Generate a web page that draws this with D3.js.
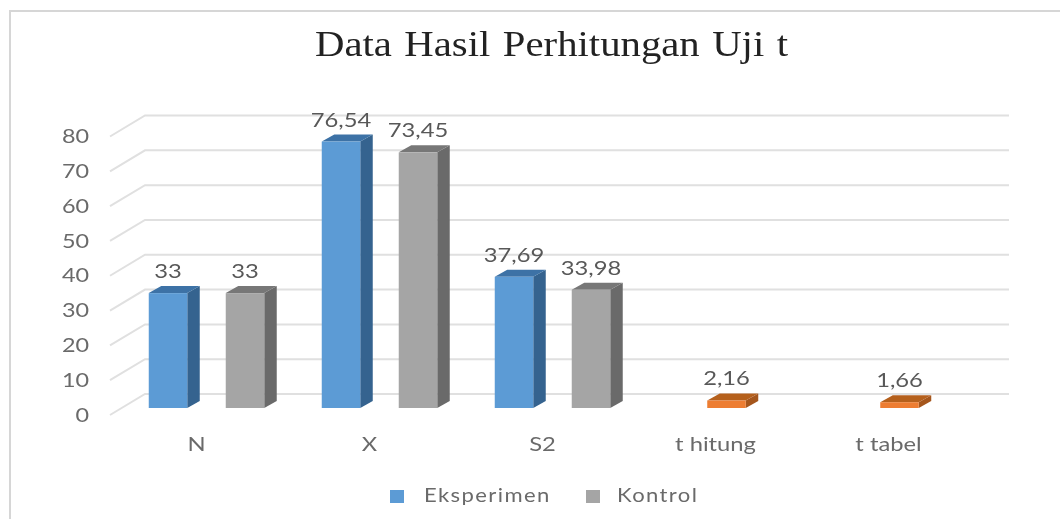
<!DOCTYPE html>
<html>
<head>
<meta charset="utf-8">
<script src="https://cdn.jsdelivr.net/npm/d3@7"></script>
<style>
  html, body { margin: 0; padding: 0; background: #fff; }
  svg { display: block; }
  .tick text { font-family: "Lato", sans-serif; }
</style>
</head>
<body>
<div id="chart"></div>
<script>
var titleText = "Data Hasil Perhitungan Uji t";
var categories = ["N", "X", "S2", "t hitung", "t tabel"];
var eksperimen = [33, 76.54, 37.69, null, null];
var kontrol = [33, 73.45, 33.98, null, null];
var ujiT = [null, null, null, 2.16, 1.66];
var yTicks = [0, 10, 20, 30, 40, 50, 60, 70, 80];
var legendNames = ["Eksperimen", "Kontrol"];

var width = 1060, height = 519;

var svg = d3.select("#chart").append("svg")
    .attr("width", width)
    .attr("height", height);

//reference is a soft scan, slight blur on everything
var defs = svg.append("defs");
defs.append("filter").attr("id", "soft")
    .append("feGaussianBlur").attr("stdDeviation", 0.55);

var root = svg.append("g").attr("filter", "url(#soft)");

//chart frame, only left and top show in the reference
root.append("path")
    .attr("d", "M10,519V11H1060")
    .attr("fill", "none")
    .attr("stroke", "#d6d6d6")
    .attr("stroke-width", 2);

//floor depth of the 3d box
var floorDx = 35, floorDy = 21;
//bar sits inside the floor
var barDx = 11, barDy = 7, depthDx = 12.5, depthDy = 7;
var barWidth = 38.5;

var x = d3.scaleBand().domain(categories).range([110, 975]);
var y = d3.scaleLinear().domain([0, 80]).range([394, 115.5]);

//stretch text sideways, the reference image is wider than tall
function stretch(selection, k){
    selection.each(function(){
        this.setAttribute("textLength", this.getComputedTextLength() * k);
        this.setAttribute("lengthAdjust", "spacingAndGlyphs");
    });
}

//gridlines: wall part and floor part
var grid = root.append("g");
yTicks.forEach(function(t){
    grid.append("path")
        .attr("d", "M" + x.range()[0] + "," + (y(t) + floorDy) +
            "L" + (x.range()[0] + floorDx) + "," + y(t) +
            "H" + (x.range()[1] + floorDx - 1))
        .attr("fill", "none")
        .attr("stroke", "#e0e0e0")
        .attr("stroke-width", 2);
});

//bottom of a bar front is at wall zero + this
var frontShift = floorDy - barDy;

function drawBar(value, left, colors){
    var top = y(value) + frontShift;
    var bottom = y(0) + frontShift;
    var right = left + barWidth;
    var g = root.append("g");
    g.append("path")
        .attr("d", "M" + right + "," + top + "l" + depthDx + "," + (-depthDy) +
            "V" + (bottom - depthDy) + "L" + right + "," + bottom + "Z")
        .attr("fill", colors.side);
    g.append("path")
        .attr("d", "M" + left + "," + top + "l" + depthDx + "," + (-depthDy) +
            "H" + (right + depthDx) + "L" + right + "," + top + "Z")
        .attr("fill", colors.top);
    g.append("rect")
        .attr("x", left)
        .attr("y", top)
        .attr("width", barWidth)
        .attr("height", bottom - top)
        .attr("fill", colors.front);

    root.append("text")
        .attr("x", left + barWidth / 2)
        .attr("y", top - 15)
        .attr("text-anchor", "middle")
        .attr("font-family", "Lato, sans-serif")
        .attr("font-size", 19)
        .attr("fill", "#595959")
        .text(String(value).replace(".", ","))
        .call(stretch, 1.25);
}

var blue = {front: "#5b9bd5", side: "#34638f", top: "#3c72a6"};
var grey = {front: "#a5a5a5", side: "#6b6b6b", top: "#777777"};
var orange = {front: "#ed7d31", side: "#a5561f", top: "#b5601f"};

categories.forEach(function(c, i){
    var center = x(c) + x.bandwidth() / 2 + barDx;
    if (eksperimen[i] !== null) drawBar(eksperimen[i], center - 1 - 38.5 - barWidth / 2, blue);
    if (kontrol[i] !== null) drawBar(kontrol[i], center - 1 + 38.5 - barWidth / 2, grey);
    if (ujiT[i] !== null) drawBar(ujiT[i], center - barWidth / 2, orange);
});

//y axis
var yAxis = root.append("g")
    .attr("transform", "translate(89," + floorDy + ")")
    .call(d3.axisLeft(y).tickValues(yTicks).tickSize(0).tickPadding(0));
yAxis.select(".domain").remove();
yAxis.selectAll("text")
    .attr("font-size", 19)
    .attr("fill", "#6a6a6a")
    .call(stretch, 1.23);

//x axis
var xAxis = root.append("g")
    .attr("transform", "translate(0,437)")
    .call(d3.axisBottom(x).tickSize(0).tickPadding(0));
xAxis.select(".domain").remove();
xAxis.selectAll("text")
    .attr("font-size", 19)
    .attr("fill", "#6a6a6a")
    .call(stretch, 1.25);

//title
root.append("text")
    .attr("x", 551.5)
    .attr("y", 56)
    .attr("text-anchor", "middle")
    .attr("font-family", "Liberation Serif, serif")
    .attr("font-size", 36)
    .attr("word-spacing", 2)
    .attr("fill", "#222")
    .attr("textLength", 473)
    .attr("lengthAdjust", "spacingAndGlyphs")
    .text(titleText);

//legend
var legendX = [390, 586];
var legendTextX = [424, 617];
var legendColors = [blue.front, grey.front];
legendNames.forEach(function(n, i){
    root.append("rect")
        .attr("x", legendX[i])
        .attr("y", 490)
        .attr("width", 14)
        .attr("height", 13)
        .attr("fill", legendColors[i]);
    root.append("text")
        .attr("x", legendTextX[i])
        .attr("y", 502)
        .attr("font-family", "Lato, sans-serif")
        .attr("font-size", 19)
        .attr("letter-spacing", 1.2)
        .attr("fill", "#6a6a6a")
        .text(n)
        .call(stretch, 1.16);
});
</script>
</body>
</html>
